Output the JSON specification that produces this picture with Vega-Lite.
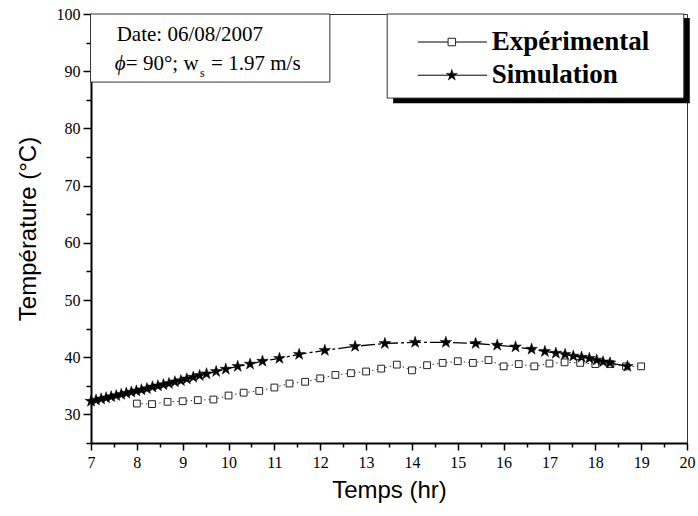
{
  "$schema": "https://vega.github.io/schema/vega-lite/v6.json",
  "width": 596,
  "height": 429,
  "autosize": {"type": "none"},
  "padding": {"left": 91, "top": 14, "right": 11, "bottom": 73},
  "background": "white",
  "config": {
    "view": {"stroke": "#333", "strokeWidth": 1},
    "axis": {"grid": false}
  },
  "datasets": {
    "exp": [
      {"hour": 8.0, "temp": 31.9}, {"hour": 8.33, "temp": 31.8}, {"hour": 8.67, "temp": 32.2},
      {"hour": 9.0, "temp": 32.3}, {"hour": 9.33, "temp": 32.5}, {"hour": 9.67, "temp": 32.6},
      {"hour": 10.0, "temp": 33.3}, {"hour": 10.33, "temp": 33.8}, {"hour": 10.67, "temp": 34.1},
      {"hour": 11.0, "temp": 34.7}, {"hour": 11.33, "temp": 35.4}, {"hour": 11.67, "temp": 35.7},
      {"hour": 12.0, "temp": 36.3}, {"hour": 12.33, "temp": 36.9}, {"hour": 12.67, "temp": 37.2},
      {"hour": 13.0, "temp": 37.5}, {"hour": 13.33, "temp": 38.0}, {"hour": 13.67, "temp": 38.7},
      {"hour": 14.0, "temp": 37.7}, {"hour": 14.33, "temp": 38.6}, {"hour": 14.67, "temp": 39.0},
      {"hour": 15.0, "temp": 39.3}, {"hour": 15.33, "temp": 39.0}, {"hour": 15.67, "temp": 39.5},
      {"hour": 16.0, "temp": 38.4}, {"hour": 16.33, "temp": 38.8}, {"hour": 16.67, "temp": 38.4},
      {"hour": 17.0, "temp": 38.9}, {"hour": 17.33, "temp": 39.1}, {"hour": 17.67, "temp": 39.0},
      {"hour": 18.0, "temp": 38.8}, {"hour": 18.33, "temp": 38.8}, {"hour": 18.67, "temp": 38.4},
      {"hour": 19.0, "temp": 38.4}
    ],
    "sim": [
      {"hour": 7.0, "temp": 32.3}, {"hour": 7.11, "temp": 32.5}, {"hour": 7.22, "temp": 32.7},
      {"hour": 7.33, "temp": 32.9}, {"hour": 7.44, "temp": 33.1}, {"hour": 7.55, "temp": 33.3},
      {"hour": 7.66, "temp": 33.5}, {"hour": 7.77, "temp": 33.7}, {"hour": 7.88, "temp": 33.9},
      {"hour": 7.99, "temp": 34.1}, {"hour": 8.1, "temp": 34.3}, {"hour": 8.22, "temp": 34.5},
      {"hour": 8.34, "temp": 34.8}, {"hour": 8.46, "temp": 35.0}, {"hour": 8.58, "temp": 35.2},
      {"hour": 8.7, "temp": 35.4}, {"hour": 8.83, "temp": 35.7}, {"hour": 8.96, "temp": 35.9},
      {"hour": 9.09, "temp": 36.2}, {"hour": 9.23, "temp": 36.5}, {"hour": 9.37, "temp": 36.8},
      {"hour": 9.52, "temp": 37.1}, {"hour": 9.73, "temp": 37.5}, {"hour": 9.94, "temp": 37.9},
      {"hour": 10.2, "temp": 38.4}, {"hour": 10.47, "temp": 38.8}, {"hour": 10.74, "temp": 39.3},
      {"hour": 11.11, "temp": 39.8}, {"hour": 11.54, "temp": 40.5}, {"hour": 12.1, "temp": 41.2},
      {"hour": 12.76, "temp": 41.9}, {"hour": 13.41, "temp": 42.4}, {"hour": 14.07, "temp": 42.6},
      {"hour": 14.74, "temp": 42.6}, {"hour": 15.39, "temp": 42.4}, {"hour": 15.86, "temp": 42.1},
      {"hour": 16.26, "temp": 41.8}, {"hour": 16.61, "temp": 41.4}, {"hour": 16.9, "temp": 41.0},
      {"hour": 17.14, "temp": 40.7}, {"hour": 17.34, "temp": 40.5}, {"hour": 17.52, "temp": 40.2},
      {"hour": 17.7, "temp": 40.0}, {"hour": 17.87, "temp": 39.8}, {"hour": 18.03, "temp": 39.5},
      {"hour": 18.17, "temp": 39.2}, {"hour": 18.32, "temp": 39.0}, {"hour": 18.7, "temp": 38.4}
    ]
  },
  "resolve": {"axis": {"x": "independent", "y": "independent"}},
  "layer": [
    {
      "data": {"name": "exp"},
      "mark": {"type": "line", "color": "#333", "strokeWidth": 1, "strokeDash": [1.5, 3]},
      "encoding": {
        "x": {"field": "hour", "type": "quantitative",
          "scale": {"domain": [7, 20], "nice": false, "zero": false},
          "axis": {"orient": "bottom",
            "values": [7,8,9,10,11,12,13,14,15,16,17,18,19,20], "format": "d",
            "tickSize": 7, "tickWidth": 1.5, "tickColor": "black", "domainColor": "black", "domainWidth": 2,
            "labelFont": "Liberation Serif", "labelFontSize": 16, "labelColor": "black", "labelPadding": 4,
            "labelFlush": false, "labelOverlap": false,
            "title": "Temps (hr)", "titleFont": "Liberation Sans", "titleFontSize": 24, "titleFontWeight": "normal",
            "titleColor": "black", "titlePadding": 8}},
        "y": {"field": "temp", "type": "quantitative",
          "scale": {"domain": [25, 100], "nice": false, "zero": false},
          "axis": {"orient": "left",
            "values": [30,40,50,60,70,80,90,100], "format": "d",
            "tickSize": 8, "tickWidth": 1.5, "tickColor": "black", "domainColor": "black", "domainWidth": 2,
            "labelFont": "Liberation Serif", "labelFontSize": 16, "labelColor": "black", "labelPadding": 3,
            "labelOverlap": false,
            "title": "Température (°C)", "titleFont": "Liberation Sans", "titleFontSize": 24, "titleFontWeight": "normal",
            "titleColor": "black", "titlePadding": 16}}
      }
    },
    {
      "data": {"name": "exp"},
      "mark": {"type": "point", "opacity": 0},
      "encoding": {
        "x": {"field": "hour", "type": "quantitative",
          "axis": {"orient": "bottom", "values": [7.5,8.5,9.5,10.5,11.5,12.5,13.5,14.5,15.5,16.5,17.5,18.5,19.5],
            "labels": false, "domain": false, "tickSize": 4, "tickWidth": 1.5, "tickColor": "black", "title": null}},
        "y": {"field": "temp", "type": "quantitative",
          "axis": {"orient": "left", "values": [25,35,45,55,65,75,85,95],
            "labels": false, "domain": false, "tickSize": 5, "tickWidth": 1.5, "tickColor": "black", "title": null}}
      }
    },
    {
      "data": {"name": "exp"},
      "mark": {"type": "point", "shape": "square", "filled": true, "fill": "white", "stroke": "#222", "strokeWidth": 1, "size": 46, "opacity": 1},
      "encoding": {
        "x": {"field": "hour", "type": "quantitative", "axis": null},
        "y": {"field": "temp", "type": "quantitative", "axis": null}
      }
    },
    {
      "data": {"name": "sim"},
      "mark": {"type": "line", "color": "black", "strokeWidth": 1.3, "strokeDash": [14, 3, 3, 3]},
      "encoding": {
        "x": {"field": "hour", "type": "quantitative", "axis": null},
        "y": {"field": "temp", "type": "quantitative", "axis": null}
      }
    },
    {
      "data": {"name": "sim"},
      "mark": {"type": "point", "shape": "M0,-1L0.225,-0.309L0.951,-0.309L0.363,0.118L0.588,0.809L0,0.382L-0.588,0.809L-0.363,0.118L-0.951,-0.309L-0.225,-0.309Z", "filled": true, "fill": "black", "stroke": "black", "strokeWidth": 0.5, "size": 150, "opacity": 1},
      "encoding": {
        "x": {"field": "hour", "type": "quantitative", "axis": null},
        "y": {"field": "temp", "type": "quantitative", "axis": null}
      }
    },
    {
      "data": {"values": [{}]},
      "mark": {"type": "rect", "fill": "white", "stroke": "#333", "strokeWidth": 1},
      "encoding": {
        "x": {"datum": 6.99, "type": "quantitative", "axis": null},
        "x2": {"datum": 12.21},
        "y": {"datum": 100, "type": "quantitative", "axis": null},
        "y2": {"datum": 88.1}
      }
    },
    {
      "data": {"values": [{}]},
      "mark": {"type": "rect", "fill": "black"},
      "encoding": {
        "x": {"datum": 13.59, "type": "quantitative", "axis": null},
        "x2": {"datum": 20.06},
        "y": {"datum": 99.3, "type": "quantitative", "axis": null},
        "y2": {"datum": 84.4}
      }
    },
    {
      "data": {"values": [{}]},
      "mark": {"type": "rect", "fill": "white", "stroke": "#333", "strokeWidth": 1},
      "encoding": {
        "x": {"datum": 13.46, "type": "quantitative", "axis": null},
        "x2": {"datum": 19.93},
        "y": {"datum": 100, "type": "quantitative", "axis": null},
        "y2": {"datum": 85.3}
      }
    },
    {
      "data": {"values": [{}]},
      "mark": {"type": "rule", "color": "black", "strokeWidth": 1},
      "encoding": {
        "x": {"datum": 14.13, "type": "quantitative", "axis": null},
        "x2": {"datum": 15.64},
        "y": {"datum": 95.1, "type": "quantitative", "axis": null}
      }
    },
    {
      "data": {"values": [{}]},
      "mark": {"type": "rule", "color": "black", "strokeWidth": 1},
      "encoding": {
        "x": {"datum": 14.13, "type": "quantitative", "axis": null},
        "x2": {"datum": 15.64},
        "y": {"datum": 89.3, "type": "quantitative", "axis": null}
      }
    },
    {
      "data": {"values": [{}]},
      "mark": {"type": "point", "shape": "square", "filled": true, "fill": "white", "stroke": "#222", "strokeWidth": 1, "size": 56, "opacity": 1},
      "encoding": {
        "x": {"datum": 14.87, "type": "quantitative", "axis": null},
        "y": {"datum": 95.1, "type": "quantitative", "axis": null}
      }
    },
    {
      "data": {"values": [{}]},
      "mark": {"type": "point", "shape": "M0,-1L0.225,-0.309L0.951,-0.309L0.363,0.118L0.588,0.809L0,0.382L-0.588,0.809L-0.363,0.118L-0.951,-0.309L-0.225,-0.309Z", "filled": true, "fill": "black", "stroke": "black", "strokeWidth": 0.5, "size": 140, "opacity": 1},
      "encoding": {
        "x": {"datum": 14.87, "type": "quantitative", "axis": null},
        "y": {"datum": 89.3, "type": "quantitative", "axis": null}
      }
    },
    {
      "data": {"values": [{}]},
      "mark": {"type": "text", "text": "Expérimental", "font": "Liberation Serif", "fontSize": 27, "fontWeight": "bold", "align": "left", "baseline": "middle", "color": "black"},
      "encoding": {
        "x": {"datum": 15.74, "type": "quantitative", "axis": null},
        "y": {"datum": 95.1, "type": "quantitative", "axis": null}
      }
    },
    {
      "data": {"values": [{}]},
      "mark": {"type": "text", "text": "Simulation", "font": "Liberation Serif", "fontSize": 27, "fontWeight": "bold", "align": "left", "baseline": "middle", "color": "black"},
      "encoding": {
        "x": {"datum": 15.74, "type": "quantitative", "axis": null},
        "y": {"datum": 89.3, "type": "quantitative", "axis": null}
      }
    },
    {
      "data": {"values": [{}]},
      "mark": {"type": "text", "text": "Date: 06/08/2007", "font": "Liberation Serif", "fontSize": 21, "align": "left", "baseline": "middle", "color": "black"},
      "encoding": {
        "x": {"datum": 7.56, "type": "quantitative", "axis": null},
        "y": {"datum": 96.3, "type": "quantitative", "axis": null}
      }
    },
    {
      "data": {"values": [{}]},
      "mark": {"type": "text", "text": "ϕ", "font": "Liberation Serif", "fontSize": 21, "fontStyle": "italic", "align": "left", "baseline": "middle", "color": "black"},
      "encoding": {
        "x": {"datum": 7.52, "type": "quantitative", "axis": null},
        "y": {"datum": 91.3, "type": "quantitative", "axis": null}
      }
    },
    {
      "data": {"values": [{}]},
      "mark": {"type": "text", "text": "= 90°; w", "font": "Liberation Serif", "fontSize": 21, "align": "left", "baseline": "middle", "color": "black"},
      "encoding": {
        "x": {"datum": 7.76, "type": "quantitative", "axis": null},
        "y": {"datum": 91.3, "type": "quantitative", "axis": null}
      }
    },
    {
      "data": {"values": [{}]},
      "mark": {"type": "text", "text": "s", "font": "Liberation Serif", "fontSize": 12, "align": "left", "baseline": "middle", "color": "black"},
      "encoding": {
        "x": {"datum": 9.38, "type": "quantitative", "axis": null},
        "y": {"datum": 89.6, "type": "quantitative", "axis": null}
      }
    },
    {
      "data": {"values": [{}]},
      "mark": {"type": "text", "text": "= 1.97 m/s", "font": "Liberation Serif", "fontSize": 21, "align": "left", "baseline": "middle", "color": "black"},
      "encoding": {
        "x": {"datum": 9.62, "type": "quantitative", "axis": null},
        "y": {"datum": 91.3, "type": "quantitative", "axis": null}
      }
    }
  ]
}
